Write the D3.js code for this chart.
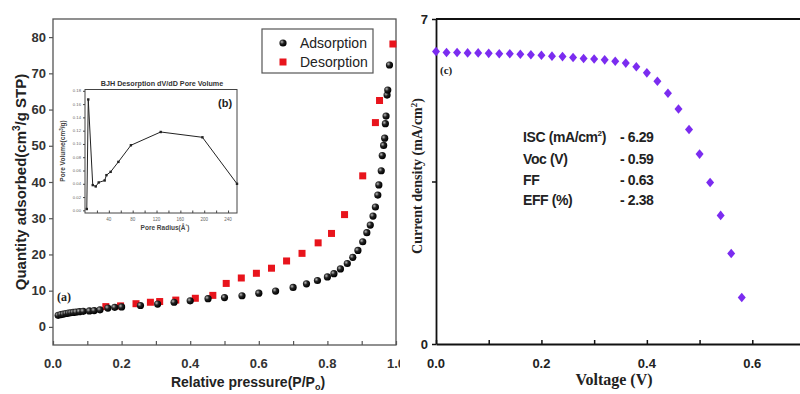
<!DOCTYPE html>
<html>
<head>
<meta charset="utf-8">
<script src="https://cdn.jsdelivr.net/npm/d3@7"></script>
<style>
  body { margin: 0; background: #fff; }
  svg { display: block; }
</style>
</head>
<body>
<div id="chart"></div>
<script>
// (a) nitrogen isotherm
const adsP = [0.015, 0.023, 0.030, 0.038, 0.045, 0.052, 0.059, 0.067, 0.077, 0.088,
  0.106, 0.120, 0.137, 0.16, 0.18, 0.20, 0.255, 0.305, 0.353, 0.40,
  0.452, 0.50, 0.551, 0.60, 0.649, 0.70, 0.739, 0.771, 0.80, 0.819,
  0.838, 0.858, 0.874, 0.889, 0.903, 0.915, 0.925, 0.933, 0.94, 0.947,
  0.95, 0.957, 0.96, 0.964, 0.967, 0.969, 0.971, 0.974, 0.976, 0.981];
const adsQ = [3.2, 3.4, 3.5, 3.7, 3.8, 3.9, 4.0, 4.1, 4.2, 4.3,
  4.4, 4.5, 4.7, 5.2, 5.4, 5.5, 5.9, 6.3, 6.8, 7.2,
  7.8, 8.1, 8.6, 9.3, 9.9, 10.9, 11.9, 12.8, 13.8, 14.7,
  16.0, 17.5, 19.2, 21.1, 23.5, 26.0, 28.1, 30.6, 33.1, 36.4,
  39.2, 43.1, 47.3, 50.1, 52.1, 56.1, 58.2, 64.0, 65.4, 72.3];
const desP = [0.154, 0.197, 0.242, 0.284, 0.311, 0.358, 0.415, 0.466, 0.505, 0.549,
  0.593, 0.637, 0.681, 0.726, 0.773, 0.812, 0.85, 0.903, 0.94, 0.952, 0.991];
const desQ = [5.6, 5.8, 6.4, 6.8, 7.0, 7.4, 7.9, 8.7, 12.0, 13.5,
  14.8, 16.2, 18.2, 20.3, 23.2, 25.8, 31.0, 41.7, 56.4, 62.5, 78.1];
const isoXTicks = [0, 0.2, 0.4, 0.6, 0.8, 1.0];
const isoYTicks = [0, 10, 20, 30, 40, 50, 60, 70, 80];

// (b) BJH inset
const poreR = [3, 5.5, 13, 18, 23, 33, 36, 43, 56, 77, 127, 197, 255];
const poreV = [0.002, 0.167, 0.038, 0.036, 0.042, 0.045, 0.053, 0.058, 0.073, 0.098, 0.118, 0.110, 0.040];
const poreXTicks = [40, 80, 120, 160, 200, 240];
const poreYTicks = [0, 0.02, 0.04, 0.06, 0.08, 0.10, 0.12, 0.14, 0.16, 0.18];

// (c) J-V curve
const voltage = [0, 0.02, 0.04, 0.06, 0.08, 0.10, 0.12, 0.14, 0.16, 0.18,
  0.20, 0.22, 0.24, 0.26, 0.28, 0.30, 0.32, 0.34, 0.36, 0.38,
  0.40, 0.42, 0.44, 0.46, 0.48, 0.50, 0.52, 0.54, 0.56, 0.58];
const current = [6.30, 6.28, 6.28, 6.27, 6.27, 6.26, 6.25, 6.25, 6.24, 6.23,
  6.22, 6.20, 6.19, 6.17, 6.15, 6.14, 6.12, 6.09, 6.05, 5.97,
  5.84, 5.66, 5.40, 5.06, 4.62, 4.09, 3.48, 2.77, 1.95, 1.00];
const jvXTicks = [0, 0.2, 0.4, 0.6];
const jvParams = ['ISC', 'Voc (V)', 'FF', 'EFF (%)'];
const jvValues = ['- 6.29', '- 0.59', '- 0.63', '- 2.38'];

const sans = 'Arial, "Liberation Sans", sans-serif';
const serif = '"Times New Roman", "Liberation Serif", serif';

const svg = d3.select('#chart').append('svg')
  .attr('width', 800).attr('height', 394);
svg.append('rect').attr('width', 800).attr('height', 394).attr('fill', '#fff');

const defs = svg.append('defs');
const grad = defs.append('radialGradient').attr('id', 'ball')
  .attr('cx', '35%').attr('cy', '35%').attr('r', '65%');
grad.append('stop').attr('offset', '0%').attr('stop-color', '#bbb');
grad.append('stop').attr('offset', '45%').attr('stop-color', '#222');
grad.append('stop').attr('offset', '100%').attr('stop-color', '#000');
defs.append('clipPath').attr('id', 'leftClip')
  .append('rect').attr('x', 0).attr('y', 0).attr('width', 400).attr('height', 394);

// ---------- left panel ----------
const L = svg.append('g').attr('clip-path', 'url(#leftClip)');
const x1 = d3.scaleLinear().domain([0, 1]).range([53, 396]);
const y1 = d3.scaleLinear().domain([-5, 85]).range([345, 19]);

L.append('rect').attr('x', 53).attr('y', 19).attr('width', 343).attr('height', 326)
  .attr('fill', 'none').attr('stroke', '#555').attr('stroke-width', 1.3);

L.append('g').attr('transform', 'translate(0,345)')
  .call(d3.axisBottom(x1).tickValues(d3.range(0, 1.01, 0.1)).tickSizeInner(-4).tickSizeOuter(0).tickFormat(''))
  .call(g => g.select('.domain').remove())
  .call(g => g.selectAll('line').attr('stroke', '#555').attr('stroke-width', 1.2));
L.append('g').attr('transform', 'translate(53,0)')
  .call(d3.axisLeft(y1).tickValues(isoYTicks).tickSize(4).tickFormat(''))
  .call(g => g.select('.domain').remove())
  .call(g => g.selectAll('line').attr('stroke', '#555').attr('stroke-width', 1.2));

L.selectAll('.xl').data(isoXTicks).enter().append('text')
  .attr('x', d => x1(d)).attr('y', 368).attr('text-anchor', 'middle')
  .attr('font-family', sans).attr('font-weight', 'bold').attr('font-size', 13).attr('fill', '#333')
  .text(d => d.toFixed(1));
L.selectAll('.yl').data(isoYTicks).enter().append('text')
  .attr('x', 46).attr('y', d => y1(d) + 4.5).attr('text-anchor', 'end')
  .attr('font-family', sans).attr('font-weight', 'bold').attr('font-size', 13).attr('fill', '#333')
  .text(d => d);

const yt = L.append('text').attr('transform', 'translate(26,182) rotate(-90)')
  .attr('text-anchor', 'middle').attr('font-family', sans).attr('font-weight', 'bold')
  .attr('font-size', 15).attr('fill', '#222');
yt.append('tspan').text('Quantity adsorbed(cm');
yt.append('tspan').attr('dy', -6).attr('font-size', 10).text('3');
yt.append('tspan').attr('dy', 6).text('/g STP)');

const xt = L.append('text').attr('x', 248).attr('y', 387).attr('text-anchor', 'middle')
  .attr('font-family', sans).attr('font-weight', 'bold').attr('font-size', 14).attr('fill', '#222');
xt.append('tspan').text('Relative pressure(P/P');
xt.append('tspan').attr('dy', 3).attr('font-size', 9).text('o');
xt.append('tspan').attr('dy', -3).text(')');

L.append('text').attr('x', 57).attr('y', 301).attr('font-family', serif)
  .attr('font-weight', 'bold').attr('font-size', 12).attr('fill', '#222').text('(a)');

// desorption squares then adsorption balls
L.selectAll('.des').data(desP).enter().append('rect')
  .attr('x', (d, i) => x1(d) - 3.5).attr('y', (d, i) => y1(desQ[i]) - 3.5)
  .attr('width', 7).attr('height', 7).attr('fill', '#e8141c');
L.selectAll('.ads').data(adsP).enter().append('circle')
  .attr('cx', d => x1(d)).attr('cy', (d, i) => y1(adsQ[i])).attr('r', 3.6)
  .attr('fill', 'url(#ball)');

// legend
L.append('rect').attr('x', 262).attr('y', 29).attr('width', 111).attr('height', 44)
  .attr('fill', '#fff').attr('stroke', '#555').attr('stroke-width', 1.2);
L.append('circle').attr('cx', 283).attr('cy', 43).attr('r', 3.6).attr('fill', 'url(#ball)');
L.append('rect').attr('x', 279.5).attr('y', 58.5).attr('width', 7).attr('height', 7).attr('fill', '#e8141c');
L.append('text').attr('x', 300).attr('y', 48).attr('font-family', sans).attr('font-size', 14)
  .attr('fill', '#222').text('Adsorption');
L.append('text').attr('x', 300).attr('y', 67).attr('font-family', sans).attr('font-size', 14)
  .attr('fill', '#222').text('Desorption');

// inset (b)
const x2 = d3.scaleLinear().domain([0, 255]).range([85, 237]);
const y2 = d3.scaleLinear().domain([-0.004, 0.182]).range([213, 89.5]);
const I = L.append('g');
I.append('rect').attr('x', 85).attr('y', 89.5).attr('width', 152).attr('height', 123.5)
  .attr('fill', '#fff').attr('stroke', '#444').attr('stroke-width', 1);
I.append('g').attr('transform', 'translate(0,213)')
  .call(d3.axisBottom(x2).tickValues(d3.range(20, 255, 20)).tickSizeInner(-2.5).tickSizeOuter(0).tickFormat(''))
  .call(g => g.select('.domain').remove())
  .call(g => g.selectAll('line').attr('stroke', '#444'));
I.append('g').attr('transform', 'translate(85,0)')
  .call(d3.axisLeft(y2).tickValues(poreYTicks).tickSize(2).tickFormat(''))
  .call(g => g.select('.domain').remove())
  .call(g => g.selectAll('line').attr('stroke', '#444'));
I.selectAll('.pxl').data(poreXTicks).enter().append('text')
  .attr('x', d => x2(d)).attr('y', 220.5).attr('text-anchor', 'middle')
  .attr('font-family', sans).attr('font-size', 4.5).attr('fill', '#666').text(d => d);
I.selectAll('.pyl').data(poreYTicks).enter().append('text')
  .attr('x', 81).attr('y', d => y2(d) + 1.5).attr('text-anchor', 'end')
  .attr('font-family', sans).attr('font-size', 4.2).attr('fill', '#666').text(d => d.toFixed(2));
I.append('text').attr('x', 162).attr('y', 86).attr('text-anchor', 'middle')
  .attr('font-family', sans).attr('font-weight', 'bold').attr('font-size', 7.2).attr('fill', '#333')
  .text('BJH Desorption dV/dD Pore Volume');
I.append('text').attr('x', 218).attr('y', 107).attr('font-family', sans).attr('font-weight', 'bold')
  .attr('font-size', 11).attr('fill', '#222').text('(b)');
const iy = I.append('text').attr('transform', 'translate(65,151) rotate(-90)')
  .attr('text-anchor', 'middle').attr('font-family', sans).attr('font-weight', 'bold')
  .attr('font-size', 6.5).attr('fill', '#444');
iy.append('tspan').text('Pore Volume(cm');
iy.append('tspan').attr('dy', -2.5).attr('font-size', 4.5).text('3');
iy.append('tspan').attr('dy', 2.5).text('/g)');
const ix = I.append('text').attr('x', 165).attr('y', 230).attr('text-anchor', 'middle')
  .attr('font-family', sans).attr('font-weight', 'bold').attr('font-size', 6.5).attr('fill', '#444');
ix.append('tspan').text('Pore Radius(Å');
ix.append('tspan').attr('dy', -2.5).attr('font-size', 4.5).text('°');
ix.append('tspan').attr('dy', 2.5).text(')');

const poreLine = d3.line().x(d => x2(d[0])).y(d => y2(d[1]));
I.append('path').datum(poreR.map((r, i) => [r, poreV[i]]))
  .attr('d', poreLine).attr('fill', 'none').attr('stroke', '#222').attr('stroke-width', 1);
I.selectAll('.pm').data(poreR).enter().append('rect')
  .attr('x', d => x2(d) - 1.2).attr('y', (d, i) => y2(poreV[i]) - 1.2)
  .attr('width', 2.4).attr('height', 2.4).attr('fill', '#222');

// ---------- right panel ----------
const R = svg.append('g');
const x3 = d3.scaleLinear().domain([0, 0.7]).range([436, 805]);
const y3 = d3.scaleLinear().domain([0, 7]).range([344, 19]);

R.append('g').attr('transform', 'translate(0,344)')
  .call(d3.axisBottom(x3).tickValues(d3.range(0, 0.75, 0.1)).tickSizeInner(-4).tickSizeOuter(0).tickFormat(''))
  .call(g => g.select('.domain').attr('stroke', '#111').attr('stroke-width', 1.8))
  .call(g => g.selectAll('line').attr('stroke', '#111').attr('stroke-width', 1.5));
R.append('g').attr('transform', 'translate(436,0)')
  .call(d3.axisLeft(y3).tickValues([0, 3.5, 7]).tickSizeInner(4).tickSizeOuter(0).tickFormat(''))
  .call(g => g.select('.domain').attr('stroke', '#111').attr('stroke-width', 1.8))
  .call(g => g.selectAll('line').attr('stroke', '#111').attr('stroke-width', 1.5));
R.append('line').attr('x1', 436).attr('x2', 800).attr('y1', 19).attr('y2', 19)
  .attr('stroke', '#111').attr('stroke-width', 1.8);

R.selectAll('.vxl').data(jvXTicks).enter().append('text')
  .attr('x', d => x3(d)).attr('y', 368).attr('text-anchor', 'middle')
  .attr('font-family', sans).attr('font-weight', 'bold').attr('font-size', 13).attr('fill', '#222')
  .text(d => d.toFixed(1));
R.selectAll('.vyl').data([0, 7]).enter().append('text')
  .attr('x', 428).attr('y', d => y3(d) + 4.5).attr('text-anchor', 'end')
  .attr('font-family', sans).attr('font-weight', 'bold').attr('font-size', 13).attr('fill', '#222')
  .text(d => d);

R.append('text').attr('x', 614).attr('y', 385).attr('text-anchor', 'middle')
  .attr('font-family', serif).attr('font-weight', 'bold').attr('font-size', 16).attr('fill', '#222')
  .text('Voltage (V)');
const ry = R.append('text').attr('transform', 'translate(422,176) rotate(-90)')
  .attr('text-anchor', 'middle').attr('font-family', serif).attr('font-weight', 'bold')
  .attr('font-size', 14).attr('fill', '#222');
ry.append('tspan').text('Current density (mA/cm');
ry.append('tspan').attr('dy', -5).attr('font-size', 9).text('2');
ry.append('tspan').attr('dy', 5).text(')');

R.append('text').attr('x', 440).attr('y', 74).attr('font-family', serif).attr('font-weight', 'bold')
  .attr('font-size', 11).attr('fill', '#222').text('(c)');

// parameter table
const rowY = [142, 164, 185, 205];
jvParams.forEach((p, i) => {
  const t = R.append('text').attr('x', 523).attr('y', rowY[i])
    .attr('font-family', sans).attr('font-size', 14).attr('font-weight', 'bold')
    .attr('letter-spacing', -0.4).attr('fill', '#222');
  if (p === 'ISC') {
    t.append('tspan').text('ISC (mA/cm');
    t.append('tspan').attr('dy', -6).attr('font-size', 8).text('2');
    t.append('tspan').attr('dy', 6).text(')');
  } else {
    t.text(p);
  }
  R.append('text').attr('x', 620).attr('y', rowY[i])
    .attr('font-family', sans).attr('font-size', 14).attr('font-weight', 'bold')
    .attr('letter-spacing', -0.4).attr('fill', '#222').text(jvValues[i]);
});

const diamond = 'M0,-4.8L4,0L0,4.8L-4,0Z';
R.selectAll('.jv').data(voltage).enter().append('path')
  .attr('d', diamond)
  .attr('transform', (d, i) => `translate(${x3(d)},${y3(current[i])})`)
  .attr('fill', '#7b2cf0');
</script>
</body>
</html>
